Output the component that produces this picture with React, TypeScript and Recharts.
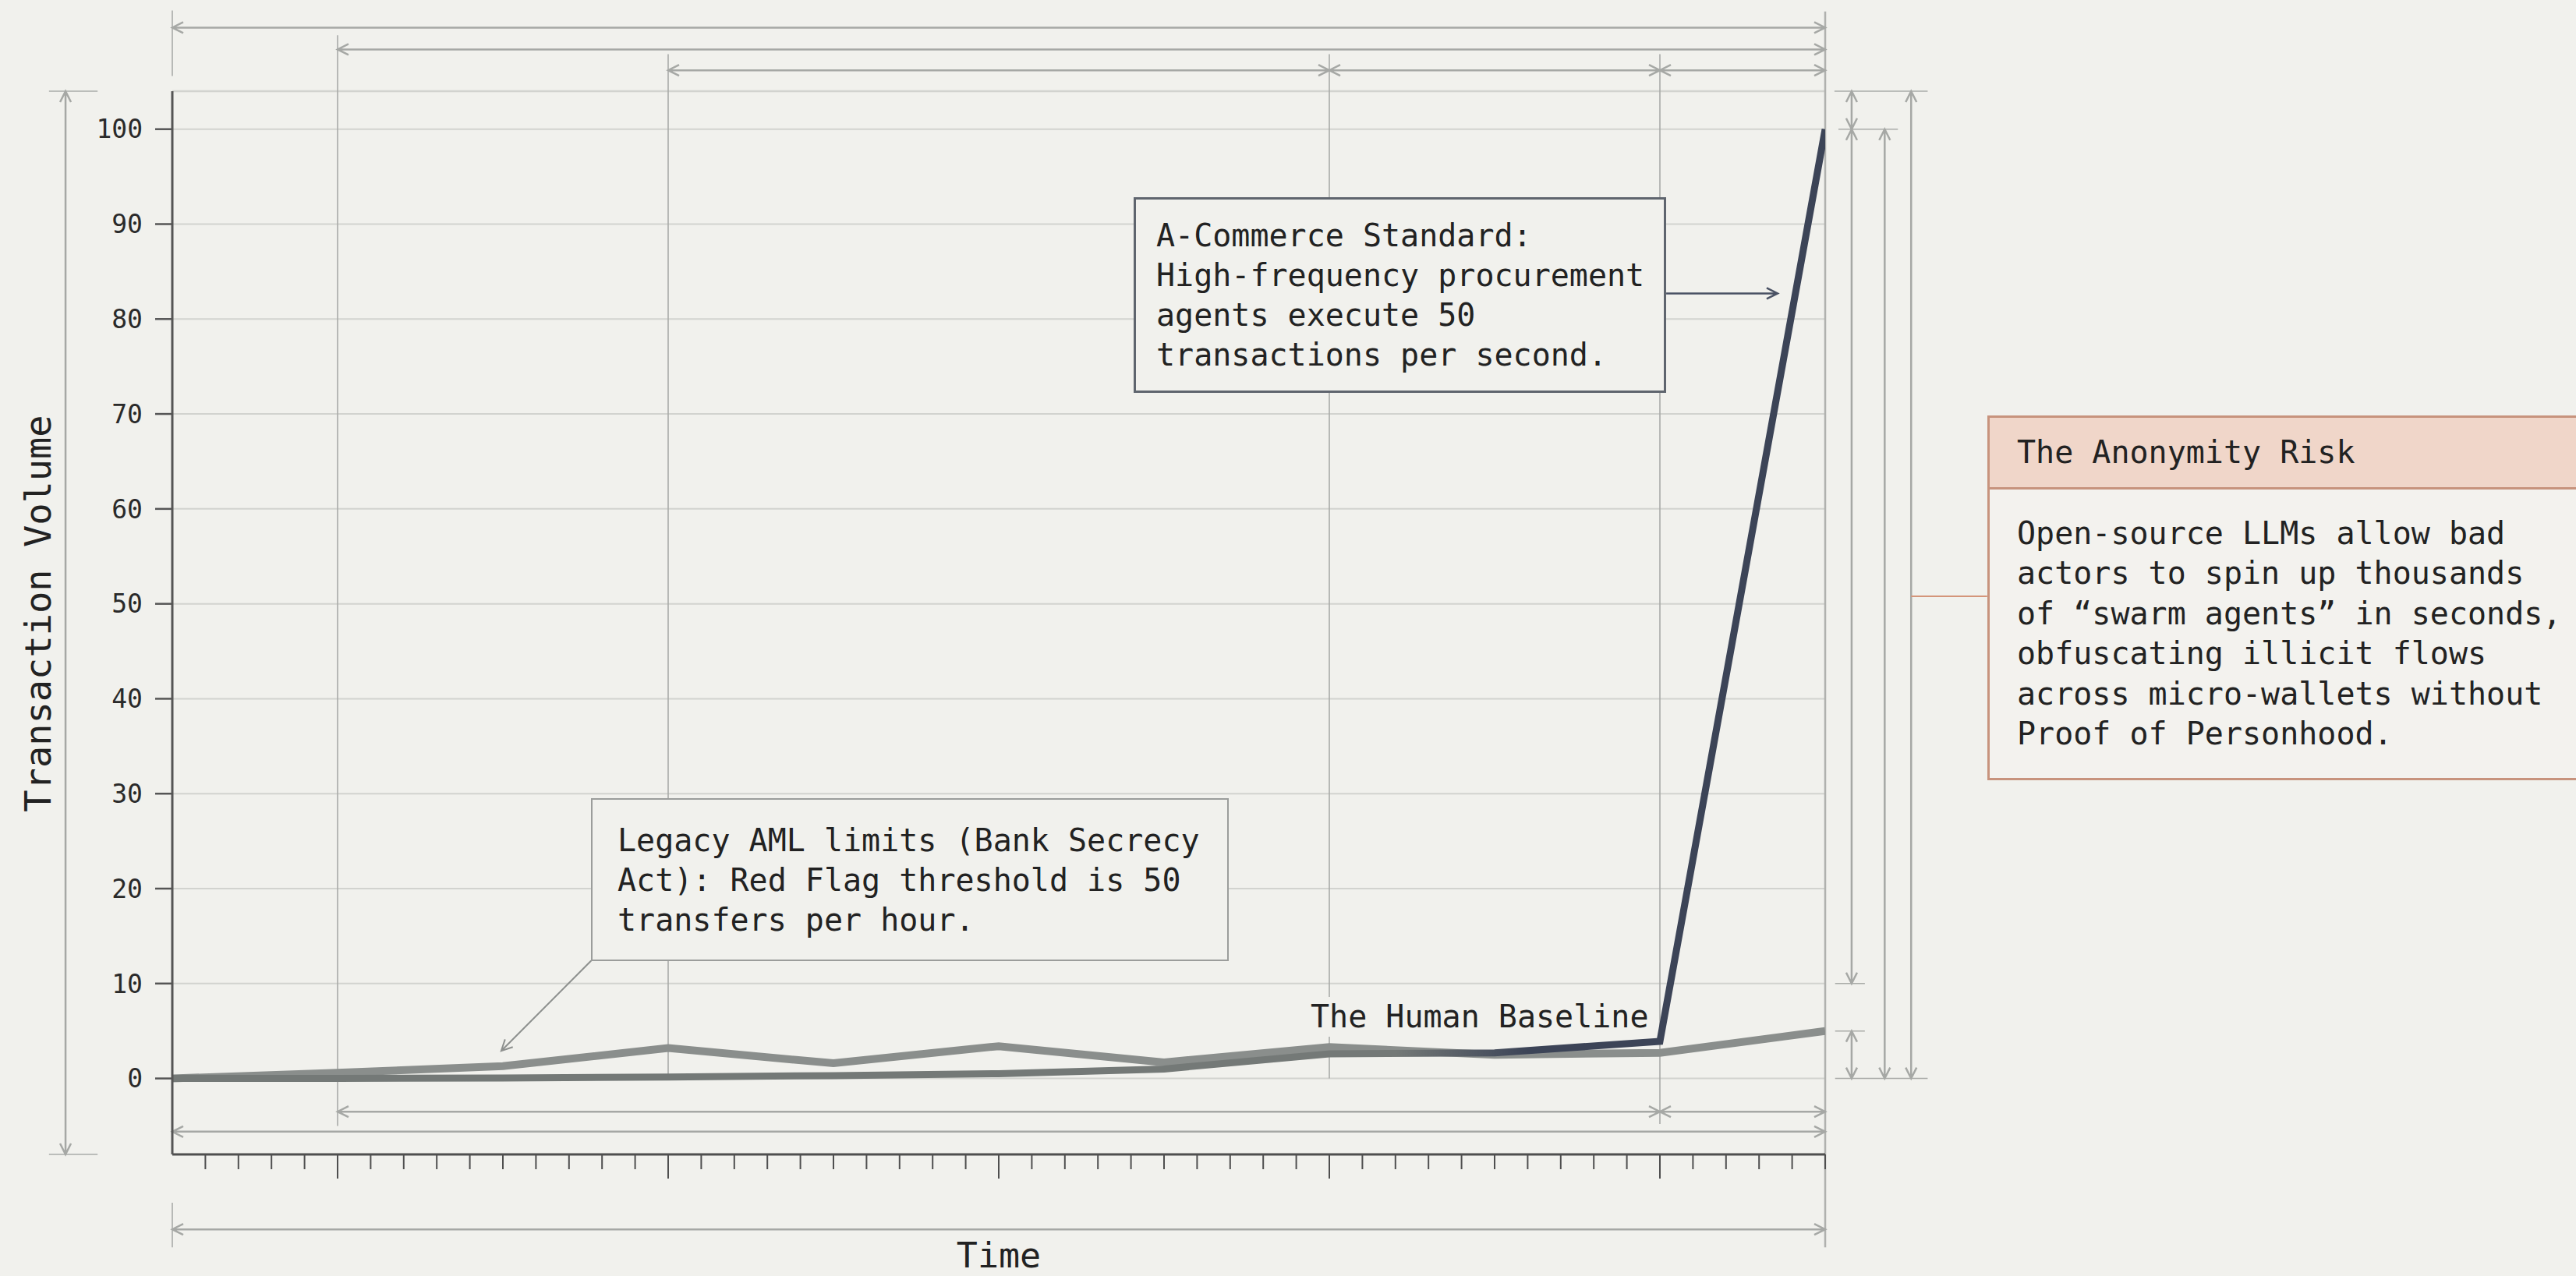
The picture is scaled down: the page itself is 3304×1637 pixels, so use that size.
import { LineChart, Line, XAxis, YAxis, CartesianGrid, ReferenceLine } from "recharts";

// time steps and the two series
const time = [0, 5, 10, 15, 20, 25, 30, 35, 40, 45, 50];
const humanBaseline = [0, 0.6, 1.3, 3.2, 1.6, 3.4, 1.7, 3.3, 2.5, 2.7, 5];
const agentVolume = [0, 0, 0.05, 0.15, 0.3, 0.5, 1.0, 2.6, 2.7, 3.9, 100];

const yTicks = [0, 10, 20, 30, 40, 50, 60, 70, 80, 90, 100];
const xTicks = Array.from({ length: 50 }, (_, i) => i + 1);
const majorTicks = [5, 15, 25, 35, 45];

const data = time.map((t, i) => ({ t, human: humanBaseline[i], agent: agentVolume[i] }));

const BG = "#f1f1ed";
const GRID = "#d2d3cf";
const DIM = "#a6a8a5";
const EXT = "#a9aba8";
const INK = "#222222";
const FONT = "'DejaVu Sans Mono', 'Liberation Mono', monospace";

type Seg = [number, number, number, number];

// extension lines (no arrowheads), in chart units
const extLines: Seg[] = [
  [0, 112.5, 0, 105.6],
  [5, 109.9, 5, -5],
  [15, 107.9, 15, 0],
  [35, 107.9, 35, 0],
  [45, 107.9, 45, -4.8],
  [0, -13.1, 0, -17.8],
  [50.28, 104, 53.1, 104],
  [50.4, 100, 52.2, 100],
  [50.3, 10, 51.2, 10],
  [50.3, 5, 51.2, 5],
  [50.3, 0, 53.1, 0],
  [-3.73, 104, -2.26, 104],
  [-3.73, -8, -2.26, -8],
];

// dimension lines, arrowheads at both ends
const dimLines: Seg[] = [
  [0, 110.7, 50, 110.7],
  [5, 108.4, 50, 108.4],
  [15, 106.2, 35, 106.2],
  [35, 106.2, 45, 106.2],
  [45, 106.2, 50, 106.2],
  [5, -3.5, 45, -3.5],
  [45, -3.5, 50, -3.5],
  [0, -5.6, 50, -5.6],
  [0, -15.9, 50, -15.9],
  [50.8, 104, 50.8, 100],
  [50.8, 100, 50.8, 10],
  [50.8, 5, 50.8, 0],
  [51.8, 100, 51.8, 0],
  [52.6, 104, 52.6, 0],
  [-3.23, 104, -3.23, -8],
];

const arrowHead = (tx: number, ty: number, fx: number, fy: number, len = 14, half = 7) => {
  const dx = tx - fx;
  const dy = ty - fy;
  const d = Math.hypot(dx, dy) || 1;
  const ux = dx / d;
  const uy = dy / d;
  const nx = -uy;
  const ny = ux;
  const bx = tx - ux * len;
  const by = ty - uy * len;
  return `M${bx + nx * half},${by + ny * half}L${tx},${ty}L${bx - nx * half},${by - ny * half}`;
};

const segShape =
  (opts: { start?: boolean; end?: boolean; color: string; width: number }) => (p: any) => {
    const { x1, y1, x2, y2 } = p;
    if ([x1, y1, x2, y2].some((v) => v == null || isNaN(v))) return <g />;
    let d = `M${x1},${y1}L${x2},${y2}`;
    if (opts.start) d += arrowHead(x1, y1, x2, y2);
    if (opts.end) d += arrowHead(x2, y2, x1, y1);
    return <path d={d} fill="none" stroke={opts.color} strokeWidth={opts.width} />;
  };

const seg = (s: Seg) => [
  { x: s[0], y: s[1] },
  { x: s[2], y: s[3] },
];

const TimeTick = (p: any) => {
  const { x, y, payload } = p;
  const major = majorTicks.includes(payload.value);
  return <line x1={x} y1={y} x2={x} y2={y + (major ? 31 : 19)} stroke="#4f4f4f" strokeWidth={2} />;
};

const textStyle: React.CSSProperties = {
  fontFamily: FONT,
  fontSize: 40,
  lineHeight: "51px",
  color: INK,
  whiteSpace: "pre",
};

export default function App() {
  return (
    <div
      style={{
        position: "absolute",
        left: 0,
        top: 0,
        width: 3304,
        height: 1637,
        background: BG,
        overflow: "hidden",
        fontFamily: FONT,
      }}
    >
      <LineChart width={3304} height={1637} data={data} margin={{ top: 117, right: 963, bottom: 96, left: 0 }}>
        <defs>
          <linearGradient id="agentStroke" x1="0" y1="0" x2="1" y2="0">
            <stop offset="0%" stopColor="#747977" />
            <stop offset="74%" stopColor="#747977" />
            <stop offset="82%" stopColor="#3c4457" />
            <stop offset="100%" stopColor="#3c4457" />
          </linearGradient>
        </defs>
        <CartesianGrid vertical={false} stroke={GRID} strokeWidth={2} />
        <XAxis
          type="number"
          dataKey="t"
          domain={[0, 50]}
          ticks={xTicks}
          interval={0}
          tickLine={false}
          tickSize={0}
          tickMargin={0}
          tick={<TimeTick />}
          axisLine={{ stroke: "#4f4f4f", strokeWidth: 3 }}
          height={60}
          allowDataOverflow
        />
        <YAxis
          type="number"
          domain={[-8, 104]}
          ticks={yTicks}
          interval={0}
          width={221}
          tickSize={22}
          tickMargin={16}
          axisLine={{ stroke: "#555555", strokeWidth: 3 }}
          tickLine={{ stroke: "#555555", strokeWidth: 2.5 }}
          tick={{ fontFamily: FONT, fontSize: 33, fill: "#2a2a2a" }}
          allowDataOverflow
        />
        <ReferenceLine
          segment={seg([0, 104, 50, 104])}
          ifOverflow="visible"
          shape={segShape({ color: GRID, width: 2.5 })}
        />
        <ReferenceLine
          segment={seg([50, 112.4, 50, -17.8])}
          ifOverflow="visible"
          shape={segShape({ color: "#b0b1ae", width: 2.5 })}
        />
        {extLines.map((s, i) => (
          <ReferenceLine
            key={"e" + i}
            segment={seg(s)}
            ifOverflow="visible"
            shape={segShape({ color: EXT, width: 1.6 })}
          />
        ))}
        {dimLines.map((s, i) => (
          <ReferenceLine
            key={"d" + i}
            segment={seg(s)}
            ifOverflow="visible"
            shape={segShape({ start: true, end: true, color: DIM, width: 2.5 })}
          />
        ))}
        <ReferenceLine
          segment={seg([52.6, 50.8, 54.9, 50.8])}
          ifOverflow="visible"
          shape={segShape({ color: "#d4957a", width: 2 })}
        />
        <ReferenceLine
          segment={seg([45.19, 82.7, 48.56, 82.7])}
          ifOverflow="visible"
          shape={segShape({ end: true, color: "#4a5264", width: 2.5 })}
        />
        <ReferenceLine
          segment={seg([12.67, 12.4, 9.95, 2.9])}
          ifOverflow="visible"
          shape={segShape({ end: true, color: "#8d908e", width: 2 })}
        />
        <Line
          type="linear"
          dataKey="human"
          stroke="#8a8e8c"
          strokeWidth={10}
          dot={false}
          activeDot={false}
          isAnimationActive={false}
        />
        <Line
          type="linear"
          dataKey="agent"
          stroke="url(#agentStroke)"
          strokeWidth={9}
          dot={false}
          activeDot={false}
          isAnimationActive={false}
        />
      </LineChart>

      {/* axis titles */}
      <div
        style={{
          position: "absolute",
          left: 48,
          top: 787,
          transform: "translate(-50%, -50%) rotate(-90deg)",
          fontFamily: FONT,
          fontSize: 47,
          lineHeight: 1,
          color: INK,
          whiteSpace: "nowrap",
        }}
      >
        Transaction Volume
      </div>
      <div
        style={{
          position: "absolute",
          left: 1281,
          top: 1610,
          transform: "translate(-50%, -50%)",
          fontFamily: FONT,
          fontSize: 45,
          lineHeight: 1,
          color: INK,
          whiteSpace: "nowrap",
        }}
      >
        Time
      </div>

      {/* A-Commerce callout */}
      <div
        style={{
          position: "absolute",
          left: 1454,
          top: 253,
          width: 683,
          height: 251,
          boxSizing: "border-box",
          border: "3px solid #5f656e",
          background: BG,
          padding: "21px 0 0 26px",
          ...textStyle,
        }}
      >
        {"A-Commerce Standard:\nHigh-frequency procurement\nagents execute 50\ntransactions per second."}
      </div>

      {/* Legacy AML callout */}
      <div
        style={{
          position: "absolute",
          left: 758,
          top: 1024,
          width: 818,
          height: 209,
          boxSizing: "border-box",
          border: "2px solid #9b9d9b",
          background: BG,
          padding: "27px 0 0 32px",
          ...textStyle,
        }}
      >
        {"Legacy AML limits (Bank Secrecy\nAct): Red Flag threshold is 50\ntransfers per hour."}
      </div>

      <div
        style={{
          position: "absolute",
          left: 1681,
          top: 1279,
          background: BG,
          ...textStyle,
        }}
      >
        The Human Baseline
      </div>

      {/* risk panel */}
      <div
        style={{
          position: "absolute",
          left: 2549,
          top: 533,
          width: 820,
          height: 468,
          boxSizing: "border-box",
          border: "3px solid #c7937d",
          background: "#f3f2ee",
        }}
      >
        <div
          style={{
            height: 89,
            background: "#f0d6c9",
            borderBottom: "3px solid #c7937d",
            display: "flex",
            alignItems: "center",
            paddingLeft: 35,
            ...textStyle,
          }}
        >
          The Anonymity Risk
        </div>
        <div style={{ padding: "31px 0 0 35px", ...textStyle, lineHeight: "51.4px" }}>
          {
            "Open-source LLMs allow bad\nactors to spin up thousands\nof \u201cswarm agents\u201d in seconds,\nobfuscating illicit flows\nacross micro-wallets without\nProof of Personhood."
          }
        </div>
      </div>
    </div>
  );
}
